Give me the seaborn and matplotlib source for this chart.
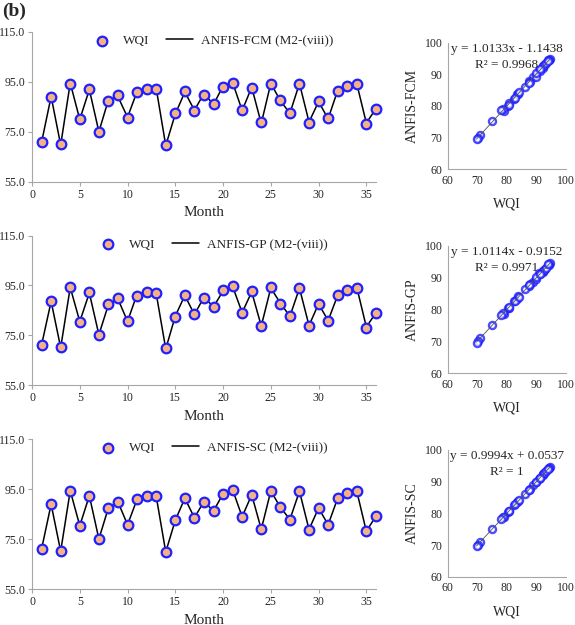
import numpy as np
import pandas as pd
import matplotlib
matplotlib.use("Agg")
import matplotlib.pyplot as plt
import seaborn as sns

sns.set_style("ticks")
plt.rcParams["font.family"] = ["Liberation Serif", "DejaVu Serif"]

# ==================================================
# DATA
# ==================================================

months = list(range(1, 37))

wqi = [71.0, 88.9, 70.1, 94.3, 80.3, 92.3, 75.0, 87.5, 89.8, 80.7, 90.9, 92.3,
       92.1, 69.7, 82.5, 91.3, 83.5, 90.0, 86.2, 93.1, 94.7, 83.9, 92.7, 78.9,
       94.2, 87.7, 82.8, 94.1, 78.8, 87.4, 80.7, 91.3, 93.3, 94.1, 78.1, 84.1]

fcm = [70.9, 89.2, 69.8, 94.6, 80.0, 92.0, 75.1, 87.9, 89.1, 80.9, 91.2, 92.6,
       92.5, 69.6, 82.2, 91.0, 83.7, 90.4, 86.0, 93.4, 94.8, 83.6, 92.9, 78.4,
       94.5, 87.5, 82.5, 94.4, 79.0, 87.1, 80.3, 91.6, 93.7, 94.3, 78.6, 84.3]

gp = [71.1, 88.6, 70.0, 94.2, 80.5, 92.0, 75.2, 87.3, 89.5, 80.6, 91.5, 92.0,
      91.8, 69.5, 82.7, 91.0, 83.3, 90.3, 86.4, 92.8, 94.6, 84.1, 92.4, 78.7,
      94.0, 87.9, 82.6, 93.9, 78.9, 87.6, 80.9, 91.0, 93.1, 94.3, 78.3, 84.0]

sc = [71.0, 88.9, 70.1, 94.3, 80.3, 92.3, 75.0, 87.5, 89.8, 80.7, 90.9, 92.3,
      92.1, 69.8, 82.5, 91.3, 83.5, 90.0, 86.2, 93.1, 94.7, 83.9, 92.7, 78.9,
      94.2, 87.7, 82.8, 94.1, 78.8, 87.4, 80.7, 91.3, 93.3, 94.1, 78.1, 84.1]

models = ["ANFIS-FCM", "ANFIS-GP", "ANFIS-SC"]
preds = [fcm, gp, sc]
equations = ["y = 1.0133x - 1.1438", "y = 1.0114x - 0.9152", "y = 0.9994x + 0.0537"]
r2_texts = ["R\u00b2 = 0.9968", "R\u00b2 = 0.9971", "R\u00b2 = 1"]

# ==================================================
# FIGURE
# ==================================================

fig = plt.figure(figsize=(5.75, 6.25), dpi=100)

line_rows = [(0.7088, 0.24), (0.384, 0.2389), (0.0576, 0.24)]
scat_rows = [(0.7296, 0.2021), (0.4027, 0.2042), (0.0773, 0.2027)]

spine_col = "#a6a6a6"
marker_face = "#f4b183"
marker_edge = "#2020ff"

for i in range(3):
    df = pd.DataFrame({"month": months, "wqi": wqi, "pred": preds[i]})

    # ---------- time series ----------
    ax = fig.add_axes([0.0557, line_rows[i][0], 0.598, line_rows[i][1]])
    sns.lineplot(data=df, x="month", y="pred", color="black", linewidth=1.1,
                 ax=ax, label=models[i] + " (M2-(viii))", zorder=2)
    sns.scatterplot(data=df, x="month", y="wqi", s=48, color=marker_face,
                    edgecolor=marker_edge, linewidth=1.6, ax=ax,
                    label="WQI", zorder=3, clip_on=False)
    ax.set_xlim(0, 36)
    ax.set_ylim(55, 115)
    ax.set_xticks(range(0, 36, 5))
    ax.set_yticks([55, 75, 95, 115])
    ax.set_yticklabels(["55.0", "75.0", "95.0", "115.0"])
    ax.set_xlabel("Month", fontsize=11)
    ax.set_ylabel("")
    ax.tick_params(labelsize=8.5, length=3, color=spine_col, pad=2)
    for side in ["left", "bottom"]:
        ax.spines[side].set_color(spine_col)
    sns.despine(ax=ax)
    h, l = ax.get_legend_handles_labels()
    ax.legend(h[::-1], l[::-1], loc="upper center", bbox_to_anchor=(0.52, 1.06),
              ncol=2, frameon=False, fontsize=9.5, handlelength=2.0,
              handletextpad=0.6, columnspacing=1.3)

    # ---------- scatter ----------
    sx = fig.add_axes([0.779, scat_rows[i][0], 0.205, scat_rows[i][1]])
    sns.regplot(data=df, x="wqi", y="pred", ci=None, ax=sx,
                scatter_kws=dict(s=26, facecolor="white", edgecolor=marker_edge,
                                 linewidths=1.7),
                line_kws=dict(color="#505050", linewidth=0.6))
    sx.set_xlim(60, 100)
    sx.set_ylim(60, 100)
    sx.set_xticks([60, 70, 80, 90, 100])
    sx.set_yticks([60, 70, 80, 90, 100])
    sx.set_xlabel("WQI", fontsize=10, labelpad=8)
    sx.set_ylabel(models[i], fontsize=10)
    sx.tick_params(labelsize=8.5, length=0, pad=4)
    for side in ["left", "bottom"]:
        sx.spines[side].set_color(spine_col)
    sns.despine(ax=sx)
    sx.text(0.5, 1.0, equations[i], transform=sx.transAxes, ha="center",
            va="top", fontsize=9.5)
    sx.text(0.5, 0.87, r2_texts[i], transform=sx.transAxes, ha="center",
            va="top", fontsize=9.5)

fig.text(0.003, 0.995, "(b)", fontsize=14, fontweight="bold", va="top", ha="left")

fig.savefig("out.png", dpi=100)
plt.close()
